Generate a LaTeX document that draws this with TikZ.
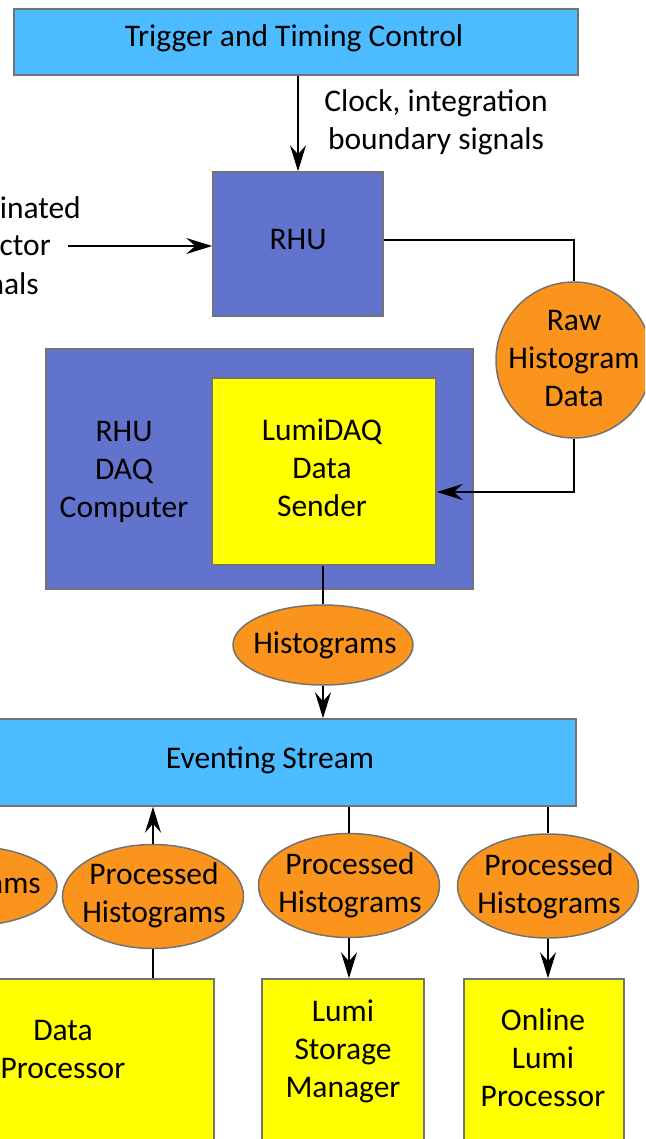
\documentclass[tikz,border=0pt]{standalone}
\usepackage{fontspec}
\setmainfont{Carlito}
\usetikzlibrary{arrows.meta,shapes.geometric,calc}
\definecolor{skyb}{RGB}{77,187,255}
\definecolor{slate}{RGB}{97,115,204}
\definecolor{orng}{RGB}{250,148,28}
\definecolor{yell}{RGB}{255,255,0}
\definecolor{edgeg}{RGB}{115,115,115}
\tikzset{
  txt/.style={font=\fontsize{31.5}{38}\selectfont, align=center, inner sep=0pt},
  box/.style={draw=edgeg, line width=1.5pt, rectangle, inner sep=0pt, txt},
  bluebox/.style={box, fill=skyb},
  slatebox/.style={box, fill=slate},
  yelbox/.style={box, fill=yell},
  oval/.style={draw=edgeg, line width=1.5pt, ellipse, fill=orng, inner sep=0pt},
  conn/.style={draw=black, line width=1.5pt},
  arr/.style={conn, -{Stealth[length=26pt,width=16pt,inset=9pt]}}
}
\begin{document}
\begin{tikzpicture}[x=1pt,y=-1pt]
\useasboundingbox (0,0) rectangle (645,1139);
\clip (0,0) rectangle (645,1139);
% top
\node[bluebox, minimum width=564pt, minimum height=66pt] (ttc) at (296,42) {};
\node[txt] (ttctext) at (294,38) {Trigger and Timing Control};
\node[slatebox, minimum width=170pt, minimum height=144pt] (rhu) at (298,244) {};
\node[txt] (rhutext) at (298,240) {RHU};
\node[txt] (clk) at (436,122) {Clock, integration\\boundary signals};
\draw[arr] (rhu.north |- ttc.south) -- (rhu.north);
% left signals (cut off)
\node[txt, anchor=east] (s1) at (81,208) {inated};
\node[txt, anchor=east] (s2) at (51,246) {ctor};
\node[txt, anchor=east] (s3) at (39,284) {nals};
\coordinate (sigend) at (68,246);
\draw[arr] (sigend) -- (sigend -| rhu.west);
% raw histogram data
\node[oval, circle, minimum size=156pt] (raw) at (574,360) {};
\node[txt] (rawtext) at (574,359) {Raw\\Histogram\\Data};
\draw[conn] ([yshift=4pt]rhu.east) -| (raw.north);
% DAQ computer
\node[slatebox, minimum width=427pt, minimum height=240pt] (daq) at (259.5,469) {};
\node[txt] (daqtext) at (124,472) {RHU\\DAQ\\Computer};
\node[yelbox, minimum width=224pt, minimum height=187pt] (sender) at (324,471.5) {};
\node[txt] (sendertext) at (322,468) {LumiDAQ\\Data\\Sender};
\draw[arr] (raw.south) |- ([yshift=-20.5pt]sender.east);
% histograms
\node[oval, minimum width=180pt, minimum height=80pt] (hist) at (323,645) {};
\node[txt] (histtext) at (325,645) {Histograms};
\draw[conn] (hist.north |- sender.south) -- (hist.north);
% eventing stream
\node[bluebox, minimum width=612pt, minimum height=87pt] (es) at (270,762.5) {};
\node[txt] (estext) at (270,760) {Eventing Stream};
\draw[arr] (hist.south) -- (hist.south |- es.north);
% bottom row
\node[oval, minimum width=180pt, minimum height=80pt] (p0) at (-33,886) {};
\node[txt, anchor=east] (p0text) at (41,886) {ams};
\node[oval, minimum width=181pt, minimum height=104pt] (pA) at (153,896.5) {};
\node[txt] (pAtext) at (154,895) {Processed\\Histograms};
\node[oval, minimum width=181pt, minimum height=104pt] (pB) at (349,885.5) {};
\node[txt] (pBtext) at (350,885) {Processed\\Histograms};
\node[oval, minimum width=181pt, minimum height=104pt] (pC) at (548,886) {};
\node[txt] (pCtext) at (549,886) {Processed\\Histograms};
\node[yelbox, minimum width=302pt, minimum height=200pt] (dp) at (63,1079) {};
\node[txt] (dptext) at (63,1049) {Data\\Processor};
\node[yelbox, minimum width=162pt, minimum height=200pt] (lsm) at (343,1079) {};
\node[txt] (lsmtext) at (343,1051) {Lumi\\Storage\\Manager};
\node[yelbox, minimum width=160pt, minimum height=200pt] (olp) at (544,1079) {};
\node[txt] (olptext) at (543,1058) {Online\\Lumi\\Processor};
\draw[arr] (pA.north) -- (pA.north |- es.south);
\draw[conn] (pA.south |- dp.north) -- (pA.south);
\draw[conn] (pB.north |- es.south) -- (pB.north);
\draw[arr] (pB.south) -- (pB.south |- lsm.north);
\draw[conn] (pC.north |- es.south) -- (pC.north);
\draw[arr] (pC.south) -- (pC.south |- olp.north);
\end{tikzpicture}
\end{document}
